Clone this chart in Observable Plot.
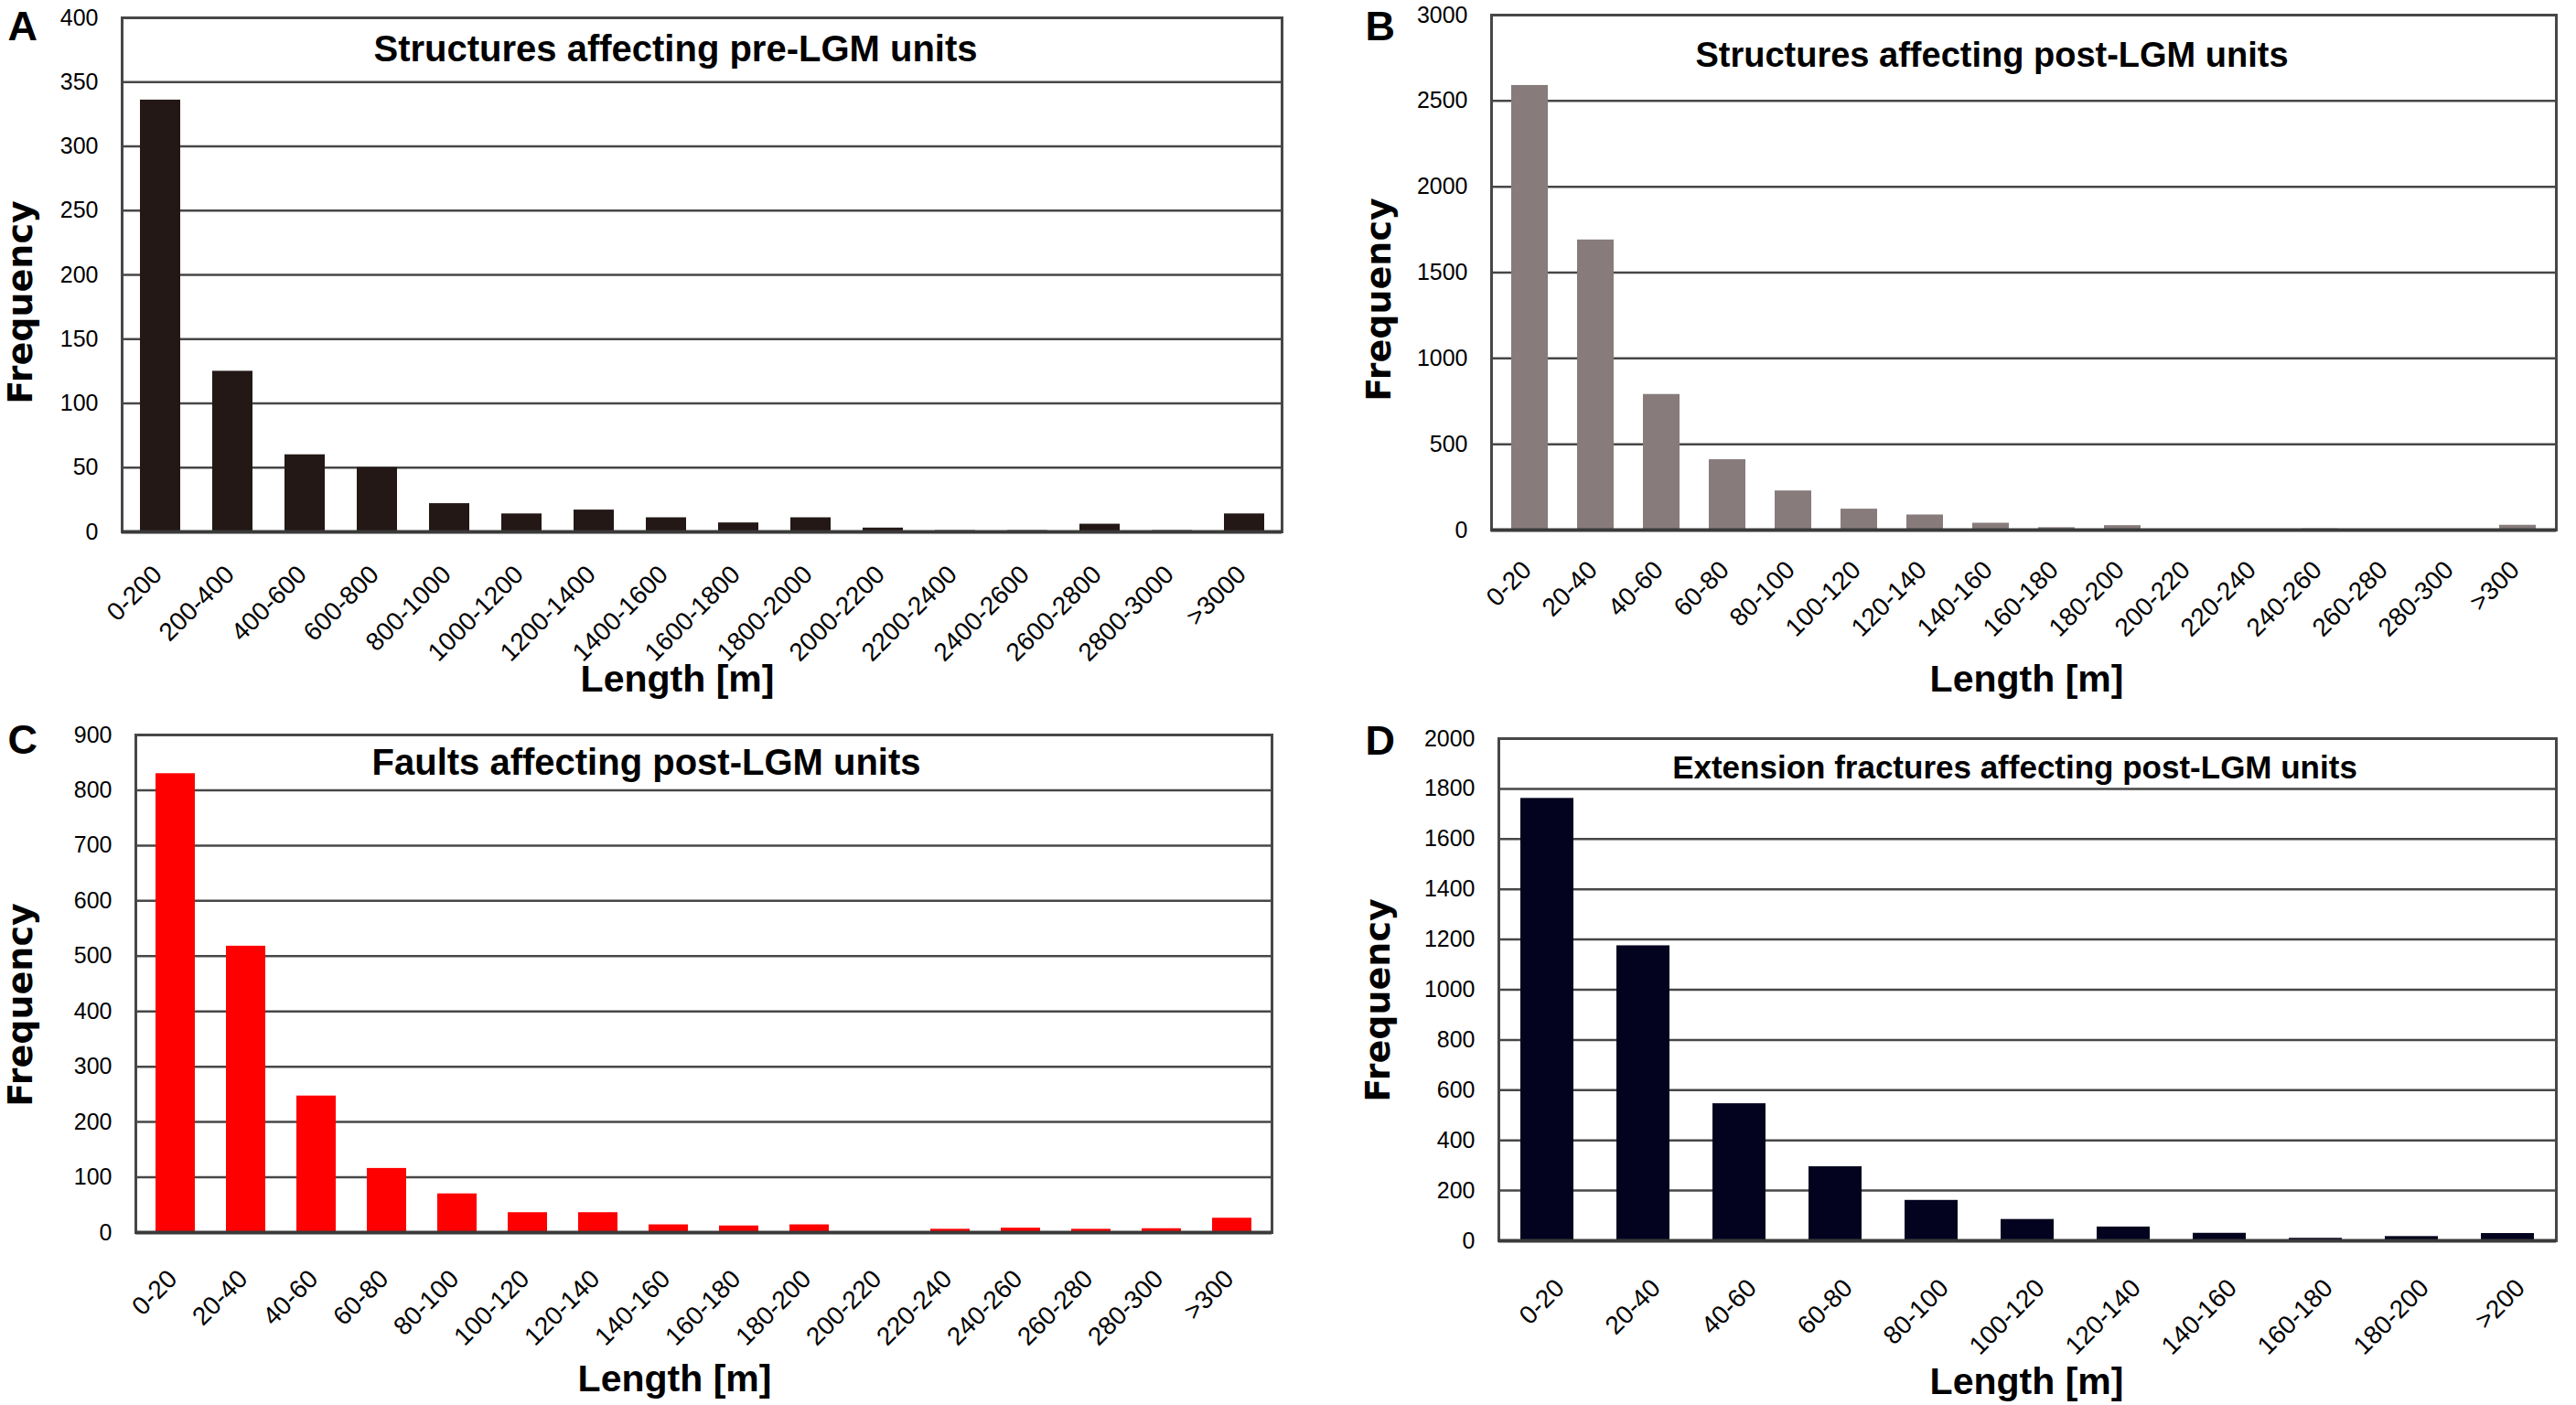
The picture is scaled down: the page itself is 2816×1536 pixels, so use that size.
<!DOCTYPE html>
<html>
<head>
<meta charset="utf-8">
<script src="https://cdn.jsdelivr.net/npm/d3@7"></script>
<script src="https://cdn.jsdelivr.net/npm/@observablehq/plot@0.6"></script>
<style>
  html, body { margin: 0; padding: 0; background: #fff; }
  #wrap { position: relative; width: 2816px; height: 1536px; background: #fff; overflow: hidden; }
  #wrap > div { position: absolute; }
  svg { overflow: visible; }
</style>
</head>
<body>
<div id="wrap"></div>
<script>
// ---------- DATA ----------
const catsA = ["0-200","200-400","400-600","600-800","800-1000","1000-1200","1200-1400","1400-1600","1600-1800","1800-2000","2000-2200","2200-2400","2400-2600","2600-2800","2800-3000",">3000"];
const valsA = [336,125,60,50,22,14,17,11,7,11,3,1,1,6,1,14];

const catsB = ["0-20","20-40","40-60","60-80","80-100","100-120","120-140","140-160","160-180","180-200","200-220","220-240","240-260","260-280","280-300",">300"];
const valsB = [2590,1690,790,410,228,122,88,40,14,26,4,4,7,0,4,28];

const catsC = ["0-20","20-40","40-60","60-80","80-100","100-120","120-140","140-160","160-180","180-200","200-220","220-240","240-260","260-280","280-300",">300"];
const valsC = [830,518,247,116,70,36,36,14,12,14,0,6,8,6,7,26];

const catsD = ["0-20","20-40","40-60","60-80","80-100","100-120","120-140","140-160","160-180","180-200",">200"];
const valsD = [1762,1175,546,295,161,85,55,30,10,17,29];

const yTicksA = [0,50,100,150,200,250,300,350,400];
const yTicksB = [0,500,1000,1500,2000,2500,3000];
const yTicksC = [0,100,200,300,400,500,600,700,800,900];
const yTicksD = [0,200,400,600,800,1000,1200,1400,1600,1800,2000];

const titles = [
  "Structures affecting pre-LGM units",
  "Structures affecting post-LGM units",
  "Faults affecting post-LGM units",
  "Extension fractures affecting post-LGM units"
];
const letters = ["A","B","C","D"];
const xLabel = "Length [m]";
const yLabel = "Frequency";

// ---------- LAYOUT / STYLE ----------
const SANS = "'Liberation Sans', Arial, Helvetica, sans-serif";
const WIDE = "'DejaVu Sans', Verdana, sans-serif";

const panels = [
  {cats: catsA, vals: valsA, ticks: yTicksA, fill: "#231815", title: titles[0], letter: letters[0],
   left: 0, top: 0, L: {mL:133, mR:7, mT:19, mB:187, titleX:738, titleY:66, titleSize:40,
   letterX:8, letterY:43, freqX:22, freqY:330, lenX:740, lenY:755, tickDx:-3, tickDy:42}},
  {cats: catsB, vals: valsB, ticks: yTicksB, fill: "#877b7b", title: titles[1], letter: letters[1],
   left: 1408, top: 0, L: {mL:222, mR:22, mT:16, mB:189, titleX:769, titleY:72, titleSize:38,
   letterX:84, letterY:43, freqX:99, freqY:327, lenX:807, lenY:755, tickDx:-3, tickDy:39}},
  {cats: catsC, vals: valsC, ticks: yTicksC, fill: "#ff0000", title: titles[2], letter: letters[2],
   left: 0, top: 768, L: {mL:148, mR:18, mT:35, mB:189, titleX:706, titleY:78, titleSize:40,
   letterX:8, letterY:55, freqX:22, freqY:330, lenX:737, lenY:752, tickDx:-3, tickDy:46}},
  {cats: catsD, vals: valsD, ticks: yTicksD, fill: "#03031f", title: titles[3], letter: letters[3],
   left: 1408, top: 768, L: {mL:230, mR:22, mT:39, mB:180, titleX:794, titleY:82, titleSize:35,
   letterX:84, letterY:56, freqX:98, freqY:325, lenX:807, lenY:755, tickDx:14, tickDy:47}}
];

const wrap = document.getElementById("wrap");

for (const p of panels) {
  const L = p.L;
  const data = p.cats.map((c, i) => ({cat: c, val: p.vals[i]}));
  const yMax = p.ticks[p.ticks.length - 1];
  const chart = Plot.plot({
    width: 1408,
    height: 768,
    marginLeft: L.mL, marginRight: L.mR, marginTop: L.mT, marginBottom: L.mB,
    style: {fontFamily: SANS, fontSize: "25px", color: "#000", background: "transparent", overflow: "visible"},
    x: {domain: p.cats, paddingInner: 0.444, paddingOuter: 0.222, axis: null},
    y: {domain: [0, yMax], axis: null},
    marks: [
      Plot.ruleY(p.ticks.filter(t => t > 0 && t < yMax), {stroke: "#474747", strokeWidth: 2.5}),
      Plot.barY(data, {x: "cat", y: "val", fill: p.fill}),
      Plot.frame({stroke: "#474747", strokeWidth: 3}),
      Plot.ruleY([0], {stroke: "#3a3a3a", strokeWidth: 4}),
      Plot.axisY(p.ticks, {tickSize: 0, tickPadding: 26, label: null, fontSize: 25, fill: "#000",
        tickFormat: d => String(d)}),
      // rotated category labels
      Plot.text(data, {x: "cat", text: "cat", frameAnchor: "bottom", dy: L.tickDy, dx: L.tickDx,
        rotate: -45, textAnchor: "end", lineAnchor: "middle", fontSize: 28, fill: "#000"}),
      // title inside frame
      Plot.text([p.title], {frameAnchor: "top-left", dx: L.titleX - L.mL, dy: L.titleY - L.mT,
        textAnchor: "middle", lineAnchor: "bottom", fontSize: L.titleSize, fontWeight: "bold", fill: "#000"}),
      // x axis title
      Plot.text([xLabel], {frameAnchor: "top-left", dx: L.lenX - L.mL, dy: L.lenY - L.mT,
        textAnchor: "middle", lineAnchor: "bottom", fontSize: 41, fontWeight: "bold", fill: "#000"}),
      // y axis title
      Plot.text([yLabel], {frameAnchor: "top-left", dx: L.freqX - L.mL, dy: L.freqY - L.mT,
        rotate: -90, textAnchor: "middle", lineAnchor: "middle", fontSize: 38, fontWeight: "bold",
        fontFamily: WIDE, fill: "#000"}),
      // panel letter
      Plot.text([p.letter], {frameAnchor: "top-left", dx: L.letterX - L.mL, dy: L.letterY - L.mT,
        textAnchor: "start", lineAnchor: "bottom", fontSize: 45, fontWeight: "bold", fill: "#000"})
    ]
  });
  const holder = document.createElement("div");
  holder.style.left = p.left + "px";
  holder.style.top = p.top + "px";
  holder.appendChild(chart);
  wrap.appendChild(holder);
}
</script>
</body>
</html>
